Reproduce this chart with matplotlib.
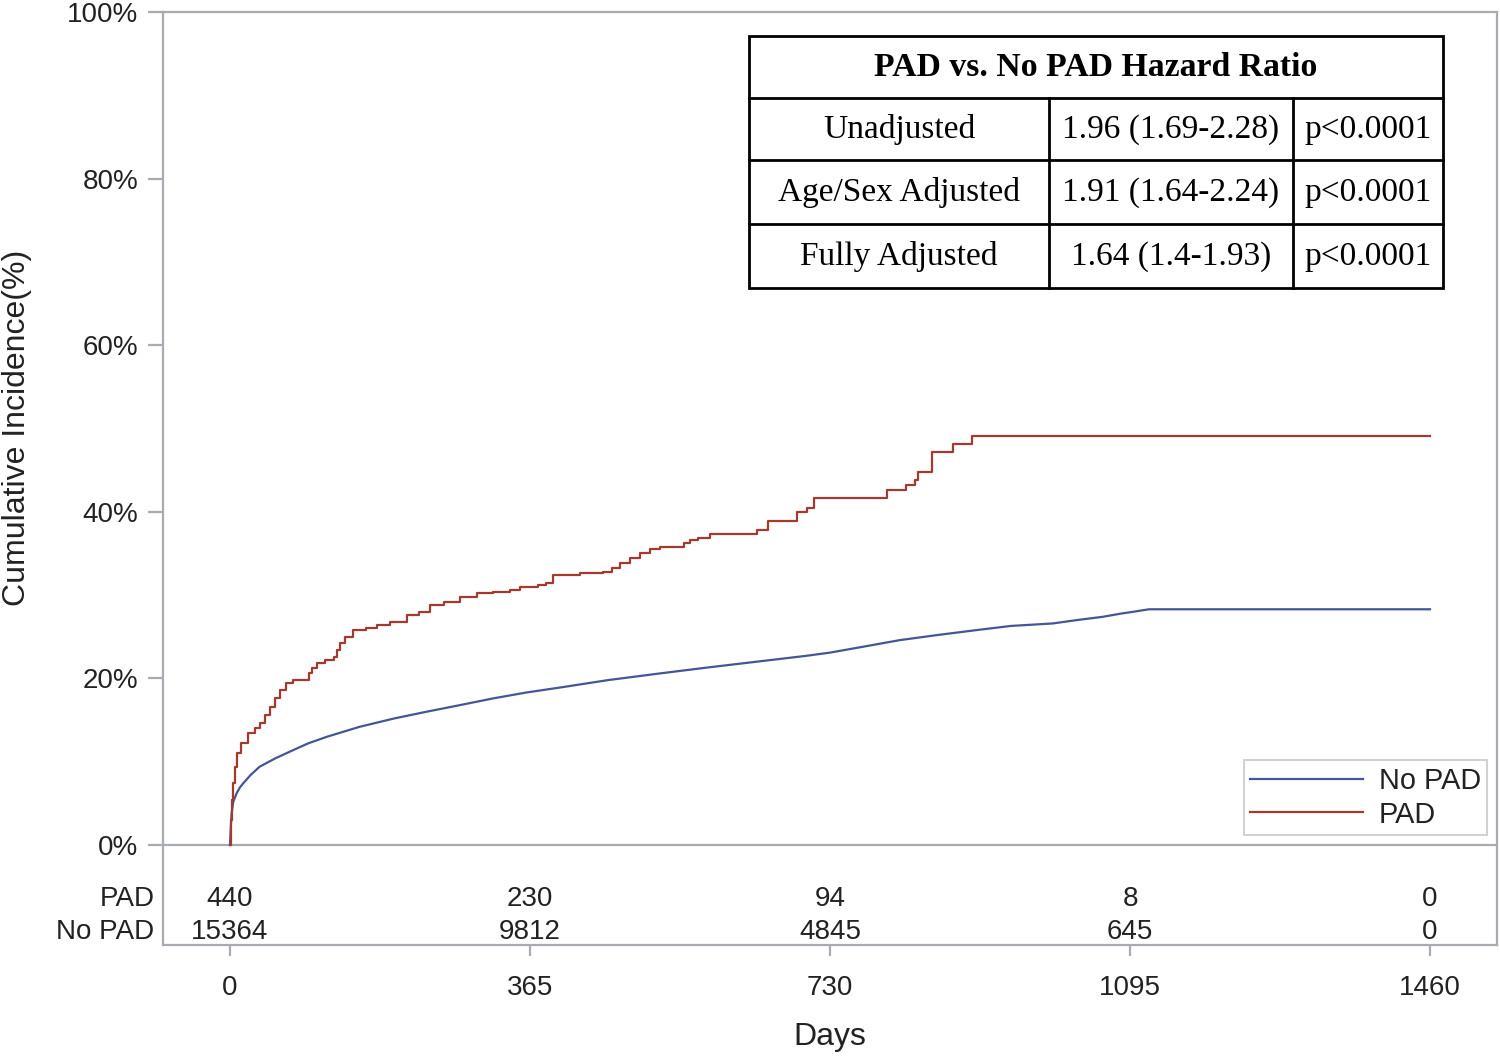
import matplotlib
matplotlib.use("Agg")
import matplotlib.pyplot as plt
from matplotlib.lines import Line2D
from matplotlib.patches import Rectangle

# cumulative incidence (days, %)
pad_days = [0, 1, 2, 4, 6, 9, 14, 22, 30, 36, 43, 49, 55, 61, 68, 77, 96, 100, 106,
            115, 126, 130, 134, 140, 150, 165, 179, 195, 215, 230, 243, 260, 280,
            300, 320, 341, 353, 375, 385, 393, 426, 454, 465, 475, 487, 499, 511,
            523, 552, 560, 570, 584, 641, 655, 690, 702, 710, 799, 823, 833, 837,
            854, 880, 903, 1460]
pad_pct = [0, 3.0, 5.4, 7.5, 9.4, 11.0, 12.2, 13.4, 14.0, 14.6, 15.6, 16.6, 17.6,
           18.6, 19.4, 19.8, 20.6, 21.2, 21.8, 22.2, 22.6, 23.4, 24.2, 25.0, 25.8,
           26.0, 26.4, 26.8, 27.6, 28.0, 28.8, 29.2, 29.8, 30.2, 30.4, 30.6, 31.0,
           31.2, 31.4, 32.4, 32.6, 32.8, 33.3, 33.8, 34.4, 35.0, 35.5, 35.8, 36.2,
           36.6, 36.9, 37.3, 37.8, 38.9, 40.0, 40.5, 41.7, 42.6, 43.2, 43.8, 44.8,
           47.2, 48.2, 49.1, 49.1]

# many small events, so this one reads as a smooth line
nopad_days = [0, 1, 2, 4, 8, 12, 16, 25, 36, 55, 77, 95, 118, 138, 158, 200, 239,
              280, 320, 360, 401, 460, 523, 580, 640, 700, 730, 770, 815, 860, 908,
              950, 1001, 1030, 1062, 1085, 1099, 1118, 1460]
nopad_pct = [0, 2.2, 3.8, 5.2, 6.2, 6.9, 7.4, 8.4, 9.4, 10.4, 11.4, 12.2, 13.0,
             13.6, 14.2, 15.2, 16.0, 16.8, 17.6, 18.3, 18.9, 19.8, 20.6, 21.3, 22.0,
             22.7, 23.1, 23.8, 24.6, 25.2, 25.8, 26.3, 26.6, 27.0, 27.4, 27.8, 28.0,
             28.3, 28.3]

risk_days = [0, 365, 730, 1095, 1460]
risk_pad = [440, 230, 94, 8, 0]
risk_nopad = [15364, 9812, 4845, 645, 0]

hr_header = "PAD vs. No PAD Hazard Ratio"
hr_models = ["Unadjusted", "Age/Sex Adjusted", "Fully Adjusted"]
hr_values = ["1.96 (1.69-2.28)", "1.91 (1.64-2.24)", "1.64 (1.4-1.93)"]
hr_pvals = ["p<0.0001", "p<0.0001", "p<0.0001"]

BLUE = "#445694"
RED = "#A23A2E"
GRID = "#A8ACB0"
TXT = "#222222"

plt.rcParams['font.family'] = ['Liberation Sans', 'DejaVu Sans']

W, H = 1500, 1057
fig = plt.figure(figsize=(15, 10.57), dpi=100)


def fx(px):
    return px / W


def fy(py):
    return 1 - py / H


ax = fig.add_axes([fx(163), fy(945), fx(1497) - fx(163), fy(12) - fy(945)])
xmin, xmax = -81.5, 1541.5
ax.set_xlim(xmin, xmax)
ax.set_ylim(-12.0, 100)

ax.plot(nopad_days, nopad_pct, color=BLUE, lw=1.6, label="No PAD")
ax.step(pad_days, pad_pct, where='post', color=RED, lw=1.6, label="PAD")

for s in ax.spines.values():
    s.set_color(GRID)
    s.set_linewidth(1.6)
ax.axhline(0, color=GRID, lw=1.6, zorder=1)

ax.set_yticks([0, 20, 40, 60, 80, 100])
ax.set_yticklabels([f"{v}%" for v in [0, 20, 40, 60, 80, 100]])
ax.set_xticks(risk_days)
ax.set_xticklabels([str(d) for d in risk_days])
ax.tick_params(axis='y', length=11, width=1.6, color=GRID, pad=7,
               labelsize=20, labelcolor=TXT)
ax.tick_params(axis='x', length=8, width=1.6, color=GRID, pad=13.5,
               labelsize=20, labelcolor=TXT)

ax.set_ylabel("Cumulative Incidence(%)", fontsize=23, color=TXT)
ax.yaxis.set_label_coords(-0.0985, 0.554)
ax.set_xlabel("Days", fontsize=23, color=TXT)
ax.xaxis.set_label_coords(0.5, -0.083)

# numbers at risk
for d, a, b in zip(risk_days, risk_pad, risk_nopad):
    ax.text(d, -6.45, str(a), ha='center', va='center', fontsize=20, color=TXT)
    ax.text(d, -10.45, str(b), ha='center', va='center', fontsize=20, color=TXT)
ax.text(xmin - 10.5, -6.45, "PAD", ha='right', va='center', fontsize=20,
        color=TXT, clip_on=False)
ax.text(xmin - 10.5, -10.45, "No PAD", ha='right', va='center', fontsize=20,
        color=TXT, clip_on=False)

leg = ax.legend(loc='lower right', bbox_to_anchor=(0.9925, 0.118),
                borderaxespad=0, fontsize=20.8, handlelength=3.9,
                handletextpad=0.55, labelspacing=0.2, borderpad=0.22,
                fancybox=False, framealpha=1)
leg.get_frame().set_edgecolor("#D0D0D0")
leg.get_frame().set_linewidth(1.4)
for t in leg.get_texts():
    t.set_color(TXT)

# hazard ratio table
x0, c1, c2, x1 = 749, 1049, 1293, 1443
rows = [36, 98, 160, 224, 288]
lw = 2.0
fig.add_artist(Rectangle((fx(x0), fy(rows[-1])), fx(x1) - fx(x0),
                         fy(rows[0]) - fy(rows[-1]), transform=fig.transFigure,
                         fill=True, facecolor='white', edgecolor='black', lw=lw,
                         zorder=5))
for r in rows[1:-1]:
    fig.add_artist(Line2D([fx(x0), fx(x1)], [fy(r), fy(r)], color='black',
                          lw=lw, transform=fig.transFigure, zorder=6))
for c in [c1, c2]:
    fig.add_artist(Line2D([fx(c), fx(c)], [fy(rows[1]), fy(rows[-1])],
                          color='black', lw=lw, transform=fig.transFigure,
                          zorder=6))

serif = ['Liberation Serif', 'DejaVu Serif']
fig.text(fx((x0 + x1) / 2), fy(67), hr_header, ha='center', va='center',
         fontsize=24.3, fontweight='bold', family=serif, zorder=7)
for i in range(3):
    yc = fy((rows[i + 1] + rows[i + 2]) / 2 + 0.5)
    fig.text(fx((x0 + c1) / 2), yc, hr_models[i], ha='center', va='center',
             fontsize=24, family=serif, zorder=7)
    fig.text(fx((c1 + c2) / 2), yc, hr_values[i], ha='center', va='center',
             fontsize=24, family=serif, zorder=7)
    fig.text(fx((c2 + x1) / 2), yc, hr_pvals[i], ha='center', va='center',
             fontsize=24, family=serif, zorder=7)

fig.savefig("out.png", dpi=100)
